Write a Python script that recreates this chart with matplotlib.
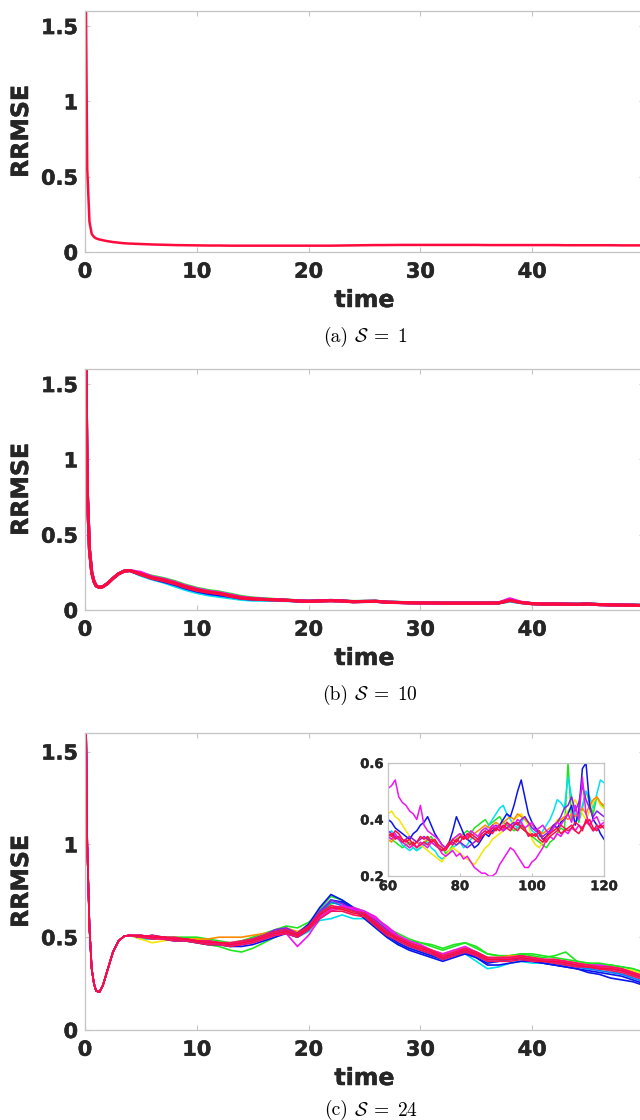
import matplotlib
matplotlib.use("Agg")
import matplotlib.pyplot as plt
import matplotlib.patheffects as pe
import numpy as np
from matplotlib.ticker import FuncFormatter

plt.rcParams['font.family'] = ['DejaVu Sans']
plt.rcParams['font.weight'] = 'bold'
plt.rcParams['mathtext.fontset'] = 'cm'

# ---------------- data ----------------
# time grid: dense at the start, then every unit from 5 to 50
t_early = [0, 0.1, 0.2, 0.4, 0.6, 0.8, 1.0, 1.3, 1.6, 2.0, 2.5, 3.0, 3.5, 4.0]
t_late = list(range(5, 51))

# (a) S = 1 : single curve
a_early = [2.5, 1.5, 0.55, 0.2, 0.12, 0.1, 0.09, 0.083, 0.078, 0.072, 0.066, 0.062, 0.058, 0.056]
a_tail = [.053, .05, .048, .046, .045, .044, .043, .043, .042, .042,
          .042, .042, .042, .042, .042, .042, .042, .042, .043, .044,
          .045, .046, .046, .047, .047, .047, .047, .047, .047, .047,
          .047, .046, .046, .046, .046, .046, .046, .046, .045, .045,
          .045, .045, .045, .044, .044, .044]

# (b) S = 10 : ensemble members (shared start, individual tails)
b_early = [2.5, 1.5, 0.8, 0.4, 0.25, 0.19, 0.16, 0.15, 0.155, 0.175, 0.21, 0.24, 0.258, 0.262]
b_green = [.245, .225, .21, .19, .165, .145, .13, .12, .105, .09,
           .08, .075, .07, .067, .062, .06, .062, .063, .061, .057,
           .058, .059, .053, .051, .049, .048, .048, .047, .047, .047,
           .047, .047, .048, .06, .05, .043, .041, .041, .04, .039,
           .04, .037, .035, .034, .033, .031]
b_cyan = [.23, .205, .185, .16, .135, .115, .10, .09, .08, .07,
          .065, .064, .064, .062, .06, .058, .06, .061, .059, .055,
          .056, .057, .052, .05, .048, .047, .047, .046, .046, .046,
          .046, .046, .046, .058, .048, .042, .04, .04, .039, .038,
          .039, .036, .034, .033, .032, .03]
b_blue = [.235, .21, .19, .17, .145, .125, .11, .10, .09, .077,
          .072, .07, .067, .064, .06, .058, .061, .064, .06, .055,
          .057, .058, .052, .05, .048, .047, .047, .046, .046, .046,
          .046, .046, .047, .066, .05, .042, .04, .04, .039, .038,
          .04, .036, .034, .033, .032, .03]
b_magenta = [.25, .22, .205, .185, .16, .14, .125, .115, .10, .085,
             .077, .072, .069, .066, .061, .059, .061, .062, .06, .056,
             .057, .058, .052, .05, .048, .047, .047, .046, .046, .046,
             .046, .046, .048, .075, .052, .043, .041, .04, .039, .038,
             .04, .036, .034, .033, .032, .03]
b_red1 = [.24, .215, .20, .18, .155, .135, .12, .11, .095, .08,
          .075, .07, .068, .065, .06, .058, .06, .062, .06, .055,
          .057, .058, .052, .05, .048, .047, .047, .046, .046, .046,
          .046, .046, .047, .065, .05, .042, .04, .04, .039, .038,
          .04, .036, .034, .033, .032, .03]
b_red2 = [.235, .21, .195, .175, .15, .13, .118, .108, .092, .078,
          .073, .069, .067, .064, .06, .057, .059, .061, .059, .054,
          .056, .057, .051, .049, .047, .046, .046, .045, .045, .045,
          .045, .045, .046, .062, .049, .041, .039, .039, .038, .037,
          .039, .035, .033, .032, .031, .029]

# (c) S = 24 : ensemble members
c_early = [2.5, 1.6, 1.0, 0.55, 0.33, 0.25, 0.21, 0.205, 0.24, 0.32, 0.42, 0.48, 0.505, 0.51]
c_green = [.50, .49, .50, .49, .48, .47, .46, .45, .43, .42,
           .44, .47, .50, .53, .52, .57, .65, .72, .70, .66,
           .61, .56, .52, .50, .48, .47, .46, .44, .46, .47,
           .44, .41, .40, .40, .41, .40, .39, .40, .42, .37,
           .36, .35, .35, .34, .33, .31]
c_green2 = [.50, .50, .50, .50, .50, .50, .49, .48, .47, .48,
            .50, .52, .54, .56, .55, .58, .63, .68, .69, .66,
            .64, .60, .55, .52, .49, .47, .45, .43, .45, .47,
            .45, .41, .40, .40, .41, .41, .40, .39, .38, .37,
            .36, .36, .35, .34, .33, .31]
c_cyan = [.49, .49, .50, .49, .48, .48, .47, .46, .45, .46,
          .47, .49, .51, .52, .50, .53, .59, .60, .62, .60,
          .60, .55, .50, .46, .44, .42, .40, .38, .40, .41,
          .37, .33, .34, .36, .37, .36, .36, .35, .35, .34,
          .33, .33, .32, .30, .29, .27]
c_blue = [.50, .51, .50, .49, .49, .48, .48, .47, .46, .47,
          .49, .51, .53, .54, .52, .57, .66, .73, .70, .66,
          .62, .57, .51, .47, .44, .42, .40, .38, .40, .42,
          .39, .36, .37, .38, .38, .37, .36, .35, .34, .33,
          .31, .30, .28, .27, .26, .24]
c_blue2 = [.50, .50, .49, .48, .48, .47, .46, .46, .45, .45,
           .46, .48, .50, .52, .50, .54, .62, .70, .69, .65,
           .60, .55, .50, .46, .43, .41, .39, .37, .39, .41,
           .39, .35, .35, .36, .37, .37, .36, .35, .34, .33,
           .32, .31, .30, .29, .27, .25]
c_azure = [.51, .50, .50, .49, .48, .48, .47, .46, .46, .47,
           .48, .50, .52, .53, .51, .55, .63, .69, .67, .64,
           .63, .58, .53, .48, .45, .43, .41, .39, .41, .43,
           .40, .37, .37, .38, .39, .38, .37, .36, .35, .34,
           .33, .32, .31, .30, .28, .26]
c_yellow = [.49, .47, .48, .49, .49, .49, .48, .47, .47, .47,
            .48, .50, .52, .53, .51, .55, .62, .65, .65, .64,
            .62, .58, .53, .50, .47, .45, .43, .41, .42, .44,
            .42, .39, .39, .39, .40, .39, .38, .38, .37, .36,
            .35, .34, .34, .33, .32, .30]
c_orange = [.51, .50, .50, .49, .49, .49, .49, .50, .50, .50,
            .51, .52, .53, .55, .53, .56, .62, .66, .66, .64,
            .63, .58, .54, .50, .47, .45, .43, .41, .43, .44,
            .42, .39, .39, .40, .40, .39, .38, .37, .36, .35,
            .35, .34, .33, .32, .31, .29]
c_purple = [.50, .50, .49, .49, .48, .48, .47, .46, .46, .47,
            .49, .51, .54, .55, .52, .56, .64, .70, .68, .65,
            .63, .59, .54, .49, .46, .43, .41, .39, .41, .43,
            .41, .38, .38, .38, .39, .38, .37, .37, .36, .35,
            .34, .33, .33, .32, .30, .28]
c_magenta = [.50, .50, .49, .49, .48, .48, .47, .46, .46, .46,
             .47, .49, .51, .52, .45, .51, .60, .64, .66, .66,
             .64, .61, .55, .50, .47, .45, .42, .40, .42, .43,
             .41, .38, .38, .39, .39, .38, .38, .37, .36, .35,
             .34, .34, .33, .32, .30, .28]
c_magenta2 = [.51, .50, .50, .49, .49, .48, .48, .47, .47, .47,
              .48, .50, .52, .53, .51, .55, .61, .65, .67, .65,
              .63, .60, .56, .51, .48, .46, .43, .41, .43, .45,
              .42, .39, .39, .39, .40, .39, .38, .38, .37, .36,
              .35, .35, .34, .33, .31, .29]
c_red1 = [.51, .50, .50, .49, .49, .48, .47, .47, .46, .47,
          .48, .50, .52, .53, .51, .55, .62, .66, .65, .63,
          .62, .57, .52, .49, .46, .44, .42, .39, .41, .43,
          .41, .38, .38, .38, .39, .38, .37, .37, .36, .35,
          .34, .33, .33, .32, .30, .28]
c_red2 = [.50, .49, .49, .48, .48, .47, .46, .46, .45, .46,
          .47, .49, .51, .52, .50, .54, .60, .64, .64, .62,
          .61, .56, .51, .48, .45, .43, .41, .38, .40, .42,
          .40, .37, .37, .37, .38, .37, .37, .36, .35, .34,
          .34, .33, .32, .31, .29, .27]
c_red3 = [.50, .51, .50, .50, .49, .48, .48, .47, .47, .48,
          .49, .51, .53, .54, .52, .56, .63, .67, .66, .64,
          .63, .58, .53, .50, .47, .45, .43, .40, .42, .44,
          .42, .39, .39, .39, .40, .39, .38, .38, .37, .36,
          .35, .34, .34, .33, .31, .29]

# inset of (c): time 60..120
t_inset = list(range(60, 121))
i_magenta_hi = [.51, .52, .54, .48, .46, .45, .43, .42, .40, .45,
                .38, .36, .35, .34, .33, .31, .30, .31, .33, .34,
                .35, .33, .34, .36, .35, .34, .36, .37, .36, .38,
                .37, .38, .36, .39, .37, .38, .40, .39, .37, .38,
                .39, .36, .37, .38, .36, .35, .37, .39, .38, .40,
                .42, .39, .45, .40, .55, .42, .38, .40, .41, .38,
                .39]
i_magenta_lo = [.34, .33, .35, .33, .32, .31, .30, .31, .30, .32,
                .31, .30, .32, .31, .30, .28, .27, .28, .29, .27,
                .28, .26, .27, .25, .23, .22, .21, .21, .20, .20,
                .21, .24, .26, .28, .30, .29, .27, .25, .23, .23,
                .25, .26, .28, .30, .33, .34, .33, .35, .34, .36,
                .35, .37, .36, .38, .37, .39, .38, .36, .37, .38,
                .37]
i_blue = [.40, .39, .37, .36, .35, .34, .33, .35, .36, .38,
          .39, .41, .38, .35, .33, .31, .30, .32, .36, .41,
          .38, .35, .33, .32, .30, .31, .33, .35, .34, .36,
          .37, .38, .40, .42, .41, .45, .50, .54, .48, .42,
          .39, .37, .35, .33, .34, .36, .38, .37, .39, .40,
          .42, .45, .38, .43, .58, .60, .45, .40, .38, .35,
          .33]
i_cyan = [.35, .36, .34, .33, .31, .30, .29, .30, .29, .30,
          .31, .32, .30, .29, .27, .26, .27, .28, .30, .31,
          .32, .30, .31, .33, .34, .33, .35, .36, .38, .40,
          .42, .44, .45, .42, .40, .38, .37, .39, .41, .38,
          .36, .35, .34, .36, .38, .40, .43, .47, .46, .44,
          .55, .48, .42, .40, .45, .50, .48, .44, .49, .54,
          .53]
i_green = [.34, .33, .32, .31, .30, .31, .32, .30, .29, .30,
           .31, .33, .34, .32, .31, .30, .28, .29, .31, .33,
           .34, .35, .36, .35, .37, .38, .39, .40, .38, .39,
           .40, .41, .39, .38, .37, .36, .37, .38, .36, .35,
           .34, .33, .32, .31, .30, .32, .33, .35, .37, .36,
           .60, .40, .42, .39, .44, .50, .46, .42, .48, .46,
           .44]
i_yellow = [.42, .43, .41, .40, .38, .36, .34, .33, .32, .31,
            .30, .29, .28, .27, .26, .25, .27, .29, .30, .29,
            .28, .27, .26, .25, .24, .26, .28, .30, .31, .33,
            .34, .35, .36, .37, .38, .40, .41, .42, .40, .38,
            .33, .31, .30, .32, .33, .35, .37, .40, .39, .41,
            .43, .45, .47, .44, .42, .40, .43, .46, .48, .45,
            .44]
i_orange = [.33, .32, .34, .33, .32, .31, .30, .31, .32, .31,
            .32, .33, .32, .31, .30, .29, .30, .31, .33, .34,
            .35, .34, .33, .34, .35, .36, .37, .38, .37, .38,
            .39, .38, .39, .40, .41, .40, .42, .41, .40, .39,
            .38, .37, .36, .35, .36, .37, .38, .39, .40, .41,
            .40, .42, .41, .43, .44, .42, .45, .47, .48, .46,
            .45]
i_purple = [.36, .35, .34, .33, .32, .33, .34, .33, .32, .33,
            .34, .33, .32, .31, .30, .29, .30, .31, .32, .31,
            .32, .31, .30, .31, .32, .33, .34, .35, .36, .37,
            .38, .37, .36, .37, .38, .39, .38, .40, .41, .39,
            .37, .36, .35, .34, .35, .36, .38, .39, .41, .44,
            .45, .48, .43, .46, .52, .47, .44, .41, .43, .42,
            .41]
i_red1 = [.35, .34, .36, .35, .33, .32, .33, .31, .32, .34,
          .33, .34, .32, .33, .31, .30, .29, .31, .33, .32,
          .34, .33, .35, .34, .33, .32, .34, .35, .36, .35,
          .37, .36, .38, .37, .36, .38, .39, .37, .36, .35,
          .34, .35, .33, .32, .34, .35, .36, .37, .35, .36,
          .37, .38, .36, .35, .37, .39, .40, .37, .36, .38,
          .37]
i_red2 = [.34, .35, .33, .34, .32, .33, .31, .32, .30, .31,
          .32, .31, .33, .32, .30, .29, .30, .32, .31, .33,
          .32, .34, .33, .35, .34, .33, .35, .36, .35, .37,
          .36, .38, .37, .39, .38, .37, .36, .38, .37, .34,
          .35, .34, .36, .33, .32, .34, .35, .36, .38, .37,
          .36, .37, .39, .38, .36, .40, .38, .36, .38, .37,
          .38]

captions = [("(a)", r"$\mathcal{S}\;=\;1$"),
            ("(b)", r"$\mathcal{S}\;=\;10$"),
            ("(c)", r"$\mathcal{S}\;=\;24$")]

# ---------------- colours ----------------
col = {'green': '#1ee61e', 'cyan': '#00e1f0', 'blue': '#0a14f0', 'azure': '#0a78ff',
       'yellow': '#f5e600', 'orange': '#ff8a00', 'purple': '#8c1ee6',
       'magenta': '#f014f0', 'red': '#ff0a3c', 'red2': '#f5145a'}
GRID = '#c4c4c4'
TXT = '#262626'
HEAVY = [pe.withStroke(linewidth=0.35, foreground=TXT)]

W, H = 640, 1120
fig = plt.figure(figsize=(W / 100, H / 100), dpi=100)


def box(top_px, bot_px, left_px=85, right_px=644):
    return [left_px / W, 1 - bot_px / H, (right_px - left_px) / W, (bot_px - top_px) / H]


def style(ax, labelsize=15, xpad=7, ypad=5, ticklen=3.6, stroke=HEAVY):
    for s in ax.spines.values():
        s.set_color(GRID)
        s.set_linewidth(0.9)
    ax.tick_params(direction='in', length=ticklen, width=0.8, color=GRID,
                   labelcolor=TXT, labelsize=labelsize, top=True, right=True)
    ax.tick_params(axis='x', pad=xpad)
    ax.tick_params(axis='y', pad=ypad)
    fmt = FuncFormatter(lambda v, _: f"{v:g}")
    ax.xaxis.set_major_formatter(fmt)
    ax.yaxis.set_major_formatter(fmt)
    for lab in ax.get_xticklabels() + ax.get_yticklabels():
        lab.set_fontweight('bold')
        lab.set_path_effects(stroke)


def main_axes(top_px, bot_px):
    ax = fig.add_axes(box(top_px, bot_px))
    ax.set_xlim(0, 50)
    ax.set_ylim(0, 1.6)
    ax.set_xticks([0, 10, 20, 30, 40])
    ax.set_yticks([0, 0.5, 1, 1.5])
    style(ax)
    ax.set_xlabel('time', fontsize=17, fontweight='bold', color=TXT, path_effects=HEAVY)
    ax.set_ylabel('RRMSE', fontsize=17, fontweight='bold', color=TXT, path_effects=HEAVY)
    hpx = bot_px - top_px
    ax.xaxis.set_label_coords(0.5, -36 / hpx)
    ax.yaxis.set_label_coords(-52 / 559, 0.5)
    return ax


def caption(y_px, pair):
    tag, math = pair
    fig.text(348 / W, 1 - y_px / H, tag, ha='right', va='center', fontsize=14,
             family='cmr10', fontweight='normal')
    fig.text(354 / W, 1 - y_px / H, math, ha='left', va='center', fontsize=14)


t_all = t_early + t_late

# (a)
ax_a = main_axes(11, 252)
ax_a.plot(t_all, a_early + a_tail, color=col['red'], lw=1.8)
caption(337, captions[0])

# (b)
ax_b = main_axes(369, 610)
for vals, c in [(b_green, 'green'), (b_cyan, 'cyan'), (b_blue, 'blue'),
                (b_magenta, 'magenta'), (b_red2, 'red2'), (b_red1, 'red')]:
    ax_b.plot(t_all, b_early + vals, color=col[c], lw=2.2)
caption(695, captions[1])

# (c)
ax_c = main_axes(733, 1030)
for vals, c in [(c_green, 'green'), (c_green2, 'green'), (c_cyan, 'cyan'),
                (c_yellow, 'yellow'), (c_orange, 'orange'), (c_blue, 'blue'),
                (c_blue2, 'blue'), (c_azure, 'azure'), (c_purple, 'purple'),
                (c_magenta, 'magenta'), (c_magenta2, 'magenta'),
                (c_red2, 'red2'), (c_red3, 'red2'), (c_red1, 'red')]:
    ax_c.plot(t_all, c_early + vals, color=col[c], lw=1.2)
caption(1110, captions[2])

# inset of (c)
ax_i = fig.add_axes(box(763, 876, 388, 604))
for vals, c in [(i_green, 'green'), (i_cyan, 'cyan'), (i_yellow, 'yellow'),
                (i_orange, 'orange'), (i_blue, 'blue'), (i_purple, 'purple'),
                (i_magenta_lo, 'magenta'), (i_magenta_hi, 'magenta'),
                (i_red2, 'red2'), (i_red1, 'red')]:
    ax_i.plot(t_inset, vals, color=col[c], lw=1.1)
ax_i.set_xlim(60, 120)
ax_i.set_ylim(0.2, 0.6)
ax_i.set_xticks([60, 80, 100, 120])
ax_i.set_yticks([0.2, 0.4, 0.6])
style(ax_i, labelsize=9.5, xpad=3, ypad=3, ticklen=2.5,
      stroke=[pe.withStroke(linewidth=0.25, foreground=TXT)])

fig.savefig('out.png', dpi=100)
